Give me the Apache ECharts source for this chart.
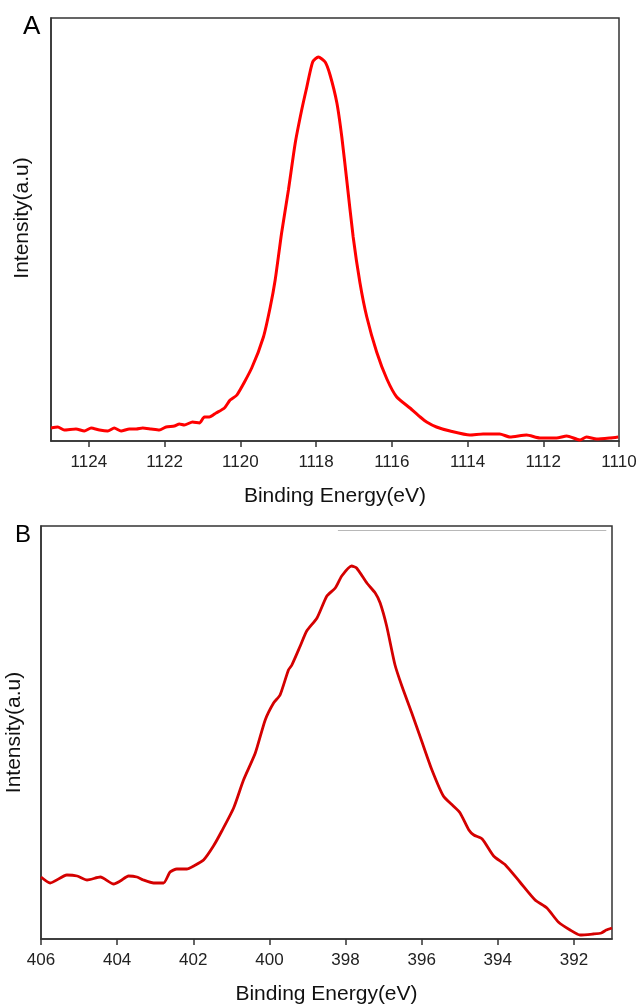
<!DOCTYPE html>
<html>
<head>
<meta charset="utf-8">
<script src="https://cdn.jsdelivr.net/npm/echarts@6/dist/echarts.min.js"></script>
<style>
  html, body { margin: 0; padding: 0; background: #fff; }
  #chart-container { width: 639px; height: 1004px; }
</style>
</head>
<body>
<div id="chart-container"></div>
<script>
var dom = document.getElementById("chart-container");
var myChart = echarts.init(dom, null, { renderer: "canvas" });

// panel A: binding energy (eV) / intensity (a.u.)
const energyA = [1125.0, 1124.82, 1124.65, 1124.34, 1124.12, 1123.94, 1123.72, 1123.5, 1123.33, 1123.15,
  1122.93, 1122.75, 1122.58, 1122.36, 1122.14, 1121.96, 1121.74, 1121.61, 1121.48, 1121.26,
  1121.08, 1120.95, 1120.82, 1120.64, 1120.42, 1120.27, 1120.09, 1119.7, 1119.39, 1119.21,
  1119.08, 1118.91, 1118.73, 1118.55, 1118.38, 1118.25, 1118.09, 1117.94, 1117.76, 1117.63,
  1117.45, 1117.32, 1117.19, 1117.02, 1116.84, 1116.66, 1116.4, 1116.13, 1115.87, 1115.52,
  1115.25, 1115.08, 1114.82, 1114.46, 1113.94, 1113.59, 1113.15, 1112.88, 1112.44, 1112.09,
  1111.65, 1111.38, 1111.03, 1110.86, 1110.59, 1110.24, 1110.02];
const intensityA = [13, 14, 11, 12, 10, 13, 11, 10, 13, 10,
  12, 12, 13, 12, 11, 14, 15, 17, 16, 19,
  18, 24, 24, 28, 33, 41, 46, 73, 104, 134,
  161, 208, 251, 298, 331, 353, 379, 384, 379, 366,
  338, 304, 261, 204, 158, 124, 89, 62, 44, 33,
  24, 19, 14, 10, 6, 7, 7, 4, 6, 3,
  3, 5, 1, 4, 2, 3, 4];
const ticksA = [1110, 1112, 1114, 1116, 1118, 1120, 1122, 1124];

// panel B
const energyB = [406.0, 405.76, 405.32, 405.05, 404.79, 404.44, 404.09, 403.92, 403.7, 403.48,
  403.31, 403.04, 402.78, 402.61, 402.43, 402.17, 401.99, 401.73, 401.47, 401.25,
  400.94, 400.68, 400.37, 400.11, 399.89, 399.72, 399.5, 399.41, 399.19, 399.02,
  398.75, 398.49, 398.27, 398.1, 397.84, 397.71, 397.44, 397.22, 397.09, 396.92,
  396.7, 396.52, 396.26, 396.0, 395.73, 395.43, 395.17, 394.99, 394.76, 394.63,
  394.41, 394.11, 393.8, 393.42, 393.02, 392.71, 392.41, 392.1, 391.84, 391.5,
  391.28, 391.15, 391.0];
const intensityB = [62, 56, 64, 63, 59, 62, 55, 58, 63, 62,
  59, 56, 56, 67, 70, 70, 73, 79, 93, 108,
  131, 159, 186, 219, 236, 244, 269, 274, 293, 308,
  321, 343, 351, 363, 373, 371, 356, 346, 336, 313,
  274, 253, 226, 198, 169, 143, 133, 126, 109, 104,
  100, 83, 74, 57, 39, 31, 17, 9, 4, 5,
  6, 9, 11];
const ticksB = [392, 394, 396, 398, 400, 402, 404, 406];

function pairs(xs, ys) {
  return xs.map((x, i) => [x, ys[i]]);
}

const font = "Liberation Sans, Arial, sans-serif";
const axisColor = "#333";

function xAxisFor(grid, min, max, ticks) {
  return {
    type: "value",
    gridIndex: grid,
    min: min,
    max: max,
    inverse: true,
    name: "Binding Energy(eV)",
    nameLocation: "middle",
    nameGap: 45,
    nameTextStyle: { fontFamily: font, fontSize: 21, color: "#111" },
    splitLine: { show: false },
    axisLine: { lineStyle: { color: axisColor, width: 1.5 } },
    axisTick: { customValues: ticks, length: 6, lineStyle: { color: axisColor, width: 1.5 } },
    axisLabel: {
      customValues: ticks,
      margin: 13,
      fontFamily: font,
      fontSize: 17,
      color: "#222",
      formatter: v => String(v)
    }
  };
}

function yAxisFor(grid, max, gap, pad) {
  return {
    type: "value",
    gridIndex: grid,
    min: 0,
    max: max,
    name: "Intensity(a.u)",
    nameLocation: "middle",
    nameGap: gap,
    nameTextStyle: { fontFamily: font, fontSize: 21, color: "#111", padding: pad },
    splitLine: { show: false },
    axisTick: { show: false },
    axisLabel: { show: false },
    axisLine: { show: true, lineStyle: { color: axisColor, width: 1.5 } }
  };
}

option = {
  animation: false,
  backgroundColor: "#fff",
  grid: [
    { left: 51, top: 18, width: 568, height: 423, outerBoundsMode: "none", containLabel: false,
      show: true, borderColor: axisColor, borderWidth: 1.5 },
    { left: 41, top: 526, width: 571, height: 413, outerBoundsMode: "none", containLabel: false,
      show: true, borderColor: axisColor, borderWidth: 1.5 }
  ],
  graphic: [
    { type: "text", left: 23, top: 14, style: { text: "A", fontFamily: font, fontSize: 26, fill: "#000" } },
    { type: "text", left: 15, top: 523, style: { text: "B", fontFamily: font, fontSize: 24, fill: "#000" } }
  ],
  xAxis: [xAxisFor(0, 1110, 1125, ticksA), xAxisFor(1, 391, 406, ticksB)],
  yAxis: [yAxisFor(0, 423, 18, [0, 0, 0, 23]), yAxisFor(1, 413, 16, 0)],
  series: [
    {
      type: "line",
      xAxisIndex: 0,
      yAxisIndex: 0,
      data: pairs(energyA, intensityA),
      showSymbol: false,
      smooth: 0.2,
      lineStyle: { color: "#ff0000", width: 3 }
    },
    {
      type: "line",
      xAxisIndex: 1,
      yAxisIndex: 1,
      data: pairs(energyB, intensityB),
      showSymbol: false,
      smooth: 0.2,
      lineStyle: { color: "#d40000", width: 2.8 },
      markLine: {
        silent: true,
        symbol: "none",
        label: { show: false },
        lineStyle: { color: "#b8b8b8", width: 1, type: "solid" },
        data: [[{ coord: [398.2, 409] }, { coord: [391.15, 409] }]]
      }
    }
  ]
};

if (option && typeof option === "object") {
  myChart.setOption(option);
}

window.addEventListener("resize", myChart.resize);
</script>
</body>
</html>
